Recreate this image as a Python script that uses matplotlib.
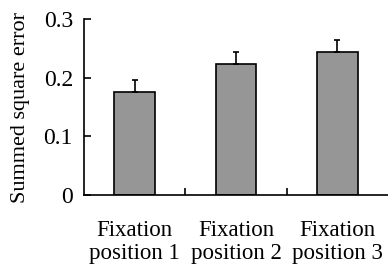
import numpy as np
import matplotlib
matplotlib.use("Agg")
import matplotlib.pyplot as plt

# data
categories = ["Fixation\nposition 1", "Fixation\nposition 2", "Fixation\nposition 3"]
sse_mean = [0.175, 0.223, 0.244]
sse_err = [0.021, 0.021, 0.021]
yticks = [0, 0.1, 0.2, 0.3]
ytick_labels = ["0", "0.1", "0.2", "0.3"]

plt.rcParams['font.family'] = ['Liberation Serif', 'DejaVu Serif']

fig = plt.figure(figsize=(3.88, 2.73), dpi=100)
ax = fig.add_axes([0.2165, 0.2857, 0.7835, 0.6443])

x = np.arange(len(categories))
ax.bar(x, sse_mean, width=0.4, color='#969696', edgecolor='black', linewidth=1.2,
       yerr=[np.zeros(len(sse_err)), sse_err], error_kw=dict(ecolor='black', elinewidth=1.2,
                                                               capsize=2, capthick=1.2),
       zorder=2)

ax.set_xlim(-0.5, 2.5)
ax.set_ylim(0, 0.3)
ax.spines['top'].set_visible(False)
ax.spines['right'].set_visible(False)
for s in ['left', 'bottom']:
    ax.spines[s].set_linewidth(1.2)

ax.set_yticks(yticks)
ax.set_yticklabels(ytick_labels, fontsize=17)
ax.tick_params(axis='y', direction='in', length=5, width=1.2, pad=8)

# category labels in the middle, small ticks at the boundaries
ax.set_xticks(x)
ax.set_xticklabels(categories, fontsize=16.5, linespacing=1.1)
ax.tick_params(axis='x', which='major', length=0, pad=18)
ax.set_xticks([0.5, 1.5], minor=True)
ax.tick_params(axis='x', which='minor', direction='in', length=5, width=1.2)

ax.set_ylabel("Summed square error", fontsize=16, labelpad=10)

fig.savefig("out.png", dpi=100)
